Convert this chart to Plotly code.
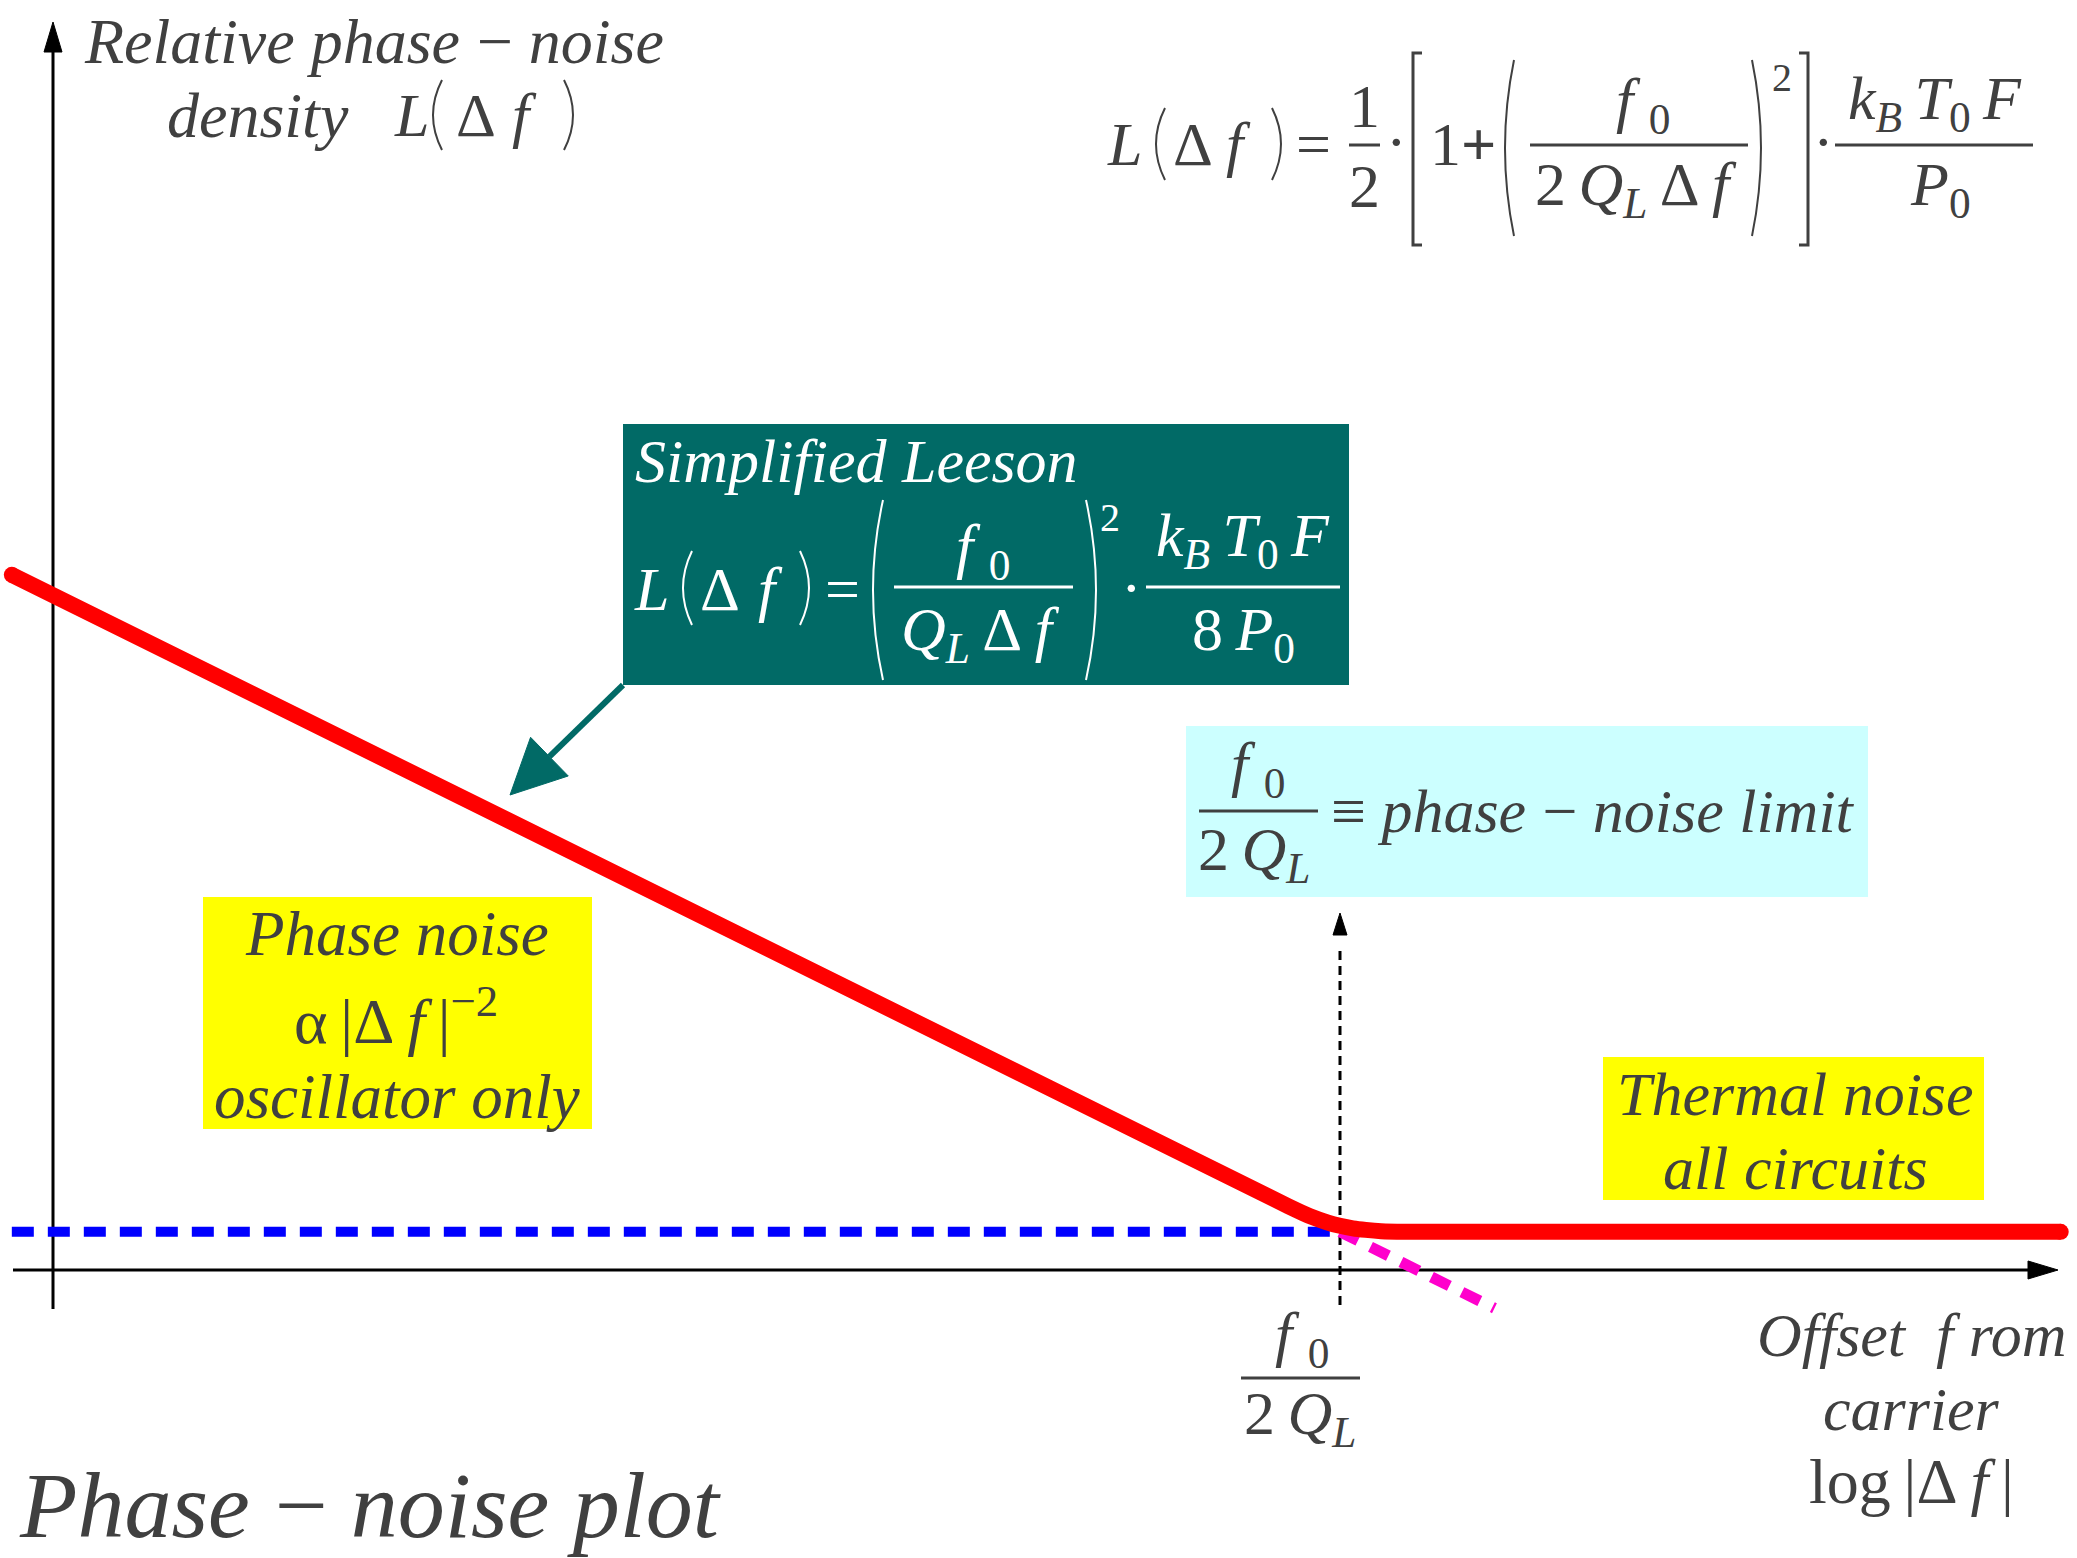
import plotly.graph_objects as go

W, H = 2077, 1558
GRAY = "#404040"
TEAL = "#016A66"
SERIF = "Liberation Serif"

# Conceptual axes: x = log offset (decades), y = noise level (dB)
X_ORIGIN_PX, PX_PER_DECADE = 53, 257.4
Y_ORIGIN_PX, PX_PER_DB = 1270, 6.366

# Simplified Leeson curve: 1/f^2 region bending into the thermal floor
offset_decades = [-0.16, 4.8, 4.88, 4.95, 5.0, 5.05, 5.1, 5.16, 5.25, 7.8]
leeson_db = [109.2, 10.0, 8.5, 7.5, 6.95, 6.55, 6.3, 6.1, 6.0, 6.0]

# Thermal noise floor (dashed) up to the corner
floor_offset = [-0.16, 5.0]
floor_db = [6.0, 6.0]

# Continuation of the 1/f^2 slope past the corner
slope_offset = [5.0, 5.6]
slope_db = [6.0, -6.0]

# Corner frequency f0 / 2QL marker
corner_offset = [5.0, 5.0]
corner_db = [-5.5, 51.0]


def px(x):
    return x / W


def py(y):
    return 1 - y / H


shapes = []
annotations = []


def text(x, y, s, size=62, color=GRAY, xa="center", ya="middle"):
    annotations.append(dict(
        x=px(x), y=py(y), xref="paper", yref="paper", text=s, showarrow=False,
        xanchor=xa, yanchor=ya, font=dict(family=SERIF, size=size, color=color),
    ))


def rect(x0, y0, x1, y1, fill):
    shapes.append(dict(type="rect", xref="paper", yref="paper",
                       x0=px(x0), y0=py(y0), x1=px(x1), y1=py(y1),
                       fillcolor=fill, line=dict(width=0), layer="below"))


def hline(x0, x1, y, color=GRAY, width=3, layer="above"):
    shapes.append(dict(type="line", xref="paper", yref="paper",
                       x0=px(x0), y0=py(y), x1=px(x1), y1=py(y),
                       line=dict(color=color, width=width), layer=layer))


def seg(x0, y0, x1, y1, color="black", width=3, layer="below"):
    shapes.append(dict(type="line", xref="paper", yref="paper",
                       x0=px(x0), y0=py(y0), x1=px(x1), y1=py(y1),
                       line=dict(color=color, width=width), layer=layer))


def arrowhead(tip, tail, length, half, color):
    dx, dy = tip[0] - tail[0], tip[1] - tail[1]
    n = (dx * dx + dy * dy) ** 0.5
    ux, uy = dx / n, dy / n
    bx, by = tip[0] - ux * length, tip[1] - uy * length
    p1 = (bx - uy * half, by + ux * half)
    p2 = (bx + uy * half, by - ux * half)
    path = (f"M {px(tip[0])},{py(tip[1])} L {px(p1[0])},{py(p1[1])} "
            f"L {px(p2[0])},{py(p2[1])} Z")
    shapes.append(dict(type="path", xref="paper", yref="paper", path=path,
                       fillcolor=color, line=dict(color=color, width=1)))
    return bx, by


def paren(x, y0, y1, bulge, color=GRAY, width=2):
    """Tall thin parenthesis: ends at x, middle pushed out by `bulge`."""
    ym = (y0 + y1) / 2
    path = (f"M {px(x)},{py(y0)} Q {px(x + 2 * bulge)},{py(ym)} "
            f"{px(x)},{py(y1)}")
    shapes.append(dict(type="path", xref="paper", yref="paper", path=path,
                       line=dict(color=color, width=width)))


def bracket(x, y0, y1, tick, color=GRAY, width=3):
    path = (f"M {px(x + tick)},{py(y0)} L {px(x)},{py(y0)} L {px(x)},{py(y1)} "
            f"L {px(x + tick)},{py(y1)}")
    shapes.append(dict(type="path", xref="paper", yref="paper", path=path,
                       line=dict(color=color, width=width)))


def l_of_df(xl, xp0, xd, xf, xp1, y, py0, py1, color=GRAY, eq=None, size=62):
    """L(Δf) with tall thin parentheses, optionally followed by '='."""
    text(xl, y, "<i>L</i>", size=size, color=color)
    paren(xp0, py0, py1, -9, color=color)
    text(xd, y, "Δ", size=size, color=color)
    text(xf, y, "<i>f</i>", size=size, color=color)
    paren(xp1, py0, py1, 9, color=color)
    if eq is not None:
        text(eq, y, "=", size=size, color=color)


S = "\u2009"
F0 = "<i>f</i> <sub>0</sub>"
TWO_QL = "2" + S + "<i>Q</i><sub><i>L</i></sub>"
QL_DF = "<i>Q</i><sub><i>L</i></sub>" + S + "Δ" + S + "<i>f</i>"
KTF = ("<i>k</i><sub><i>B</i></sub>" + S + "<i>T</i><sub>0</sub>" + S
       + "<i>F</i>")

# ---- axes ----
seg(53, 1309, 53, 40, width=3)
arrowhead((53, 22), (53, 100), 30, 9, "black")
seg(13, 1270, 2030, 1270, width=3)
arrowhead((2058, 1270), (1900, 1270), 30, 9, "black")

# ---- boxes ----
rect(623, 424, 1349, 685, TEAL)
rect(1186, 726, 1868, 897, "#CCFFFF")
rect(203, 897, 592, 1129, "#FFFF00")
rect(1603, 1057, 1984, 1200, "#FFFF00")

# ---- axis titles ----
text(374, 42, "<i>Relative phase\u2009\u2212\u2009noise</i>", size=64)
text(258, 115, "<i>density</i>", size=64)
l_of_df(411, 442, 476, 524, 564, 115, 80, 150)
text(1911, 1335, "<i>Offset\u2002f rom</i>")
text(1911, 1409, "<i>carrier</i>")
text(1911, 1481, "log" + S + "|Δ" + S + "<i>f</i>" + S + "|", size=64)
text(17, 1505, "<i>Phase\u2009\u2212\u2009noise plot</i>", size=94, xa="left")

# ---- full Leeson formula (top right) ----
l_of_df(1124, 1165, 1193, 1238, 1272, 144, 108, 180, eq=1313)
text(1364, 106, "1")
hline(1349, 1380, 145)
text(1364, 186, "2")
text(1396, 142, "·")
bracket(1413, 53, 245, 9)
text(1463, 144, "1<b>+</b>")
paren(1514, 60, 236, -9)
hline(1530, 1748, 145)
text(1643, 104, F0)
text(1636, 188, "2" + S + QL_DF)
paren(1752, 60, 236, 9)
text(1782, 77, "2", size=40)
bracket(1808, 53, 245, -9)
text(1823, 142, "·")
hline(1835, 2033, 145)
text(1935, 102, KTF)
text(1940, 188, "<i>P</i><sub>0</sub>")

# ---- simplified Leeson box ----
WH = "white"
text(633, 461, "<i>Simplified Leeson</i>", color=WH, xa="left")
l_of_df(651, 692, 720, 770, 800, 589, 551, 625, color=WH, eq=842)
paren(883, 500, 680, -10, color=WH)
hline(894, 1073, 587, color=WH)
text(983, 550, F0, color=WH)
text(980, 633, QL_DF, color=WH)
paren(1086, 500, 680, 10, color=WH)
text(1110, 517, "2", size=40, color=WH)
text(1131, 588, "·", color=WH)
hline(1146, 1340, 587, color=WH)
text(1243, 540, KTF, color=WH)
text(1243, 633, "8" + S + "<i>P</i><sub>0</sub>", color=WH)

# pointer from the box to the 1/f^2 slope
bx, by = arrowhead((510, 795), (623, 685), 55, 27, TEAL)
seg(623, 685, bx, by, color=TEAL, width=6, layer="above")

# ---- phase-noise limit box ----
hline(1199, 1318, 811)
text(1258, 768, F0)
text(1254, 854, TWO_QL)
text(1329, 811, "\u2261 <i>phase\u2009\u2212\u2009noise limit</i>", xa="left")

# ---- yellow labels ----
text(397, 934, "<i>Phase noise</i>", size=63)
text(396, 1017, "α" + S + "|Δ" + S + "<i>f</i>" + S + "|<sup>\u22122</sup>",
     size=64)
text(397, 1097, "<i>oscillator only</i>", size=63)
text(1795, 1094, "<i>Thermal noise</i>")
text(1795, 1168, "<i>all circuits</i>")

# ---- corner frequency label ----
hline(1241, 1360, 1378)
text(1302, 1338, F0)
text(1300, 1417, TWO_QL)
arrowhead((1340, 913), (1340, 1000), 22, 7, "black")

fig = go.Figure()
fig.add_trace(go.Scatter(
    x=corner_offset, y=corner_db, mode="lines",
    line=dict(color="black", width=3, dash="9px,6px"), hoverinfo="skip"))
fig.add_trace(go.Scatter(
    x=floor_offset, y=floor_db, mode="lines",
    line=dict(color="#0000FF", width=10, dash="22px,14px"), hoverinfo="skip"))
fig.add_trace(go.Scatter(
    x=slope_offset, y=slope_db, mode="lines",
    line=dict(color="#FF00CC", width=11, dash="20px,14px"), hoverinfo="skip"))
fig.add_trace(go.Scatter(
    x=offset_decades, y=leeson_db, mode="lines",
    line=dict(color="#FF0000", width=16, shape="spline", smoothing=0.6),
    hoverinfo="skip"))
fig.add_trace(go.Scatter(
    x=[offset_decades[0], offset_decades[-1]], y=[leeson_db[0], leeson_db[-1]],
    mode="markers", marker=dict(color="#FF0000", size=16), hoverinfo="skip"))

fig.update_layout(
    width=W, height=H, margin=dict(l=0, r=0, t=0, b=0),
    paper_bgcolor="white", plot_bgcolor="rgba(0,0,0,0)",
    showlegend=False, shapes=shapes, annotations=annotations,
    xaxis=dict(visible=False, fixedrange=True,
               range=[-X_ORIGIN_PX / PX_PER_DECADE,
                      (W - X_ORIGIN_PX) / PX_PER_DECADE]),
    yaxis=dict(visible=False, fixedrange=True,
               range=[(Y_ORIGIN_PX - H) / PX_PER_DB, Y_ORIGIN_PX / PX_PER_DB]),
)

fig.write_html("out.html")
